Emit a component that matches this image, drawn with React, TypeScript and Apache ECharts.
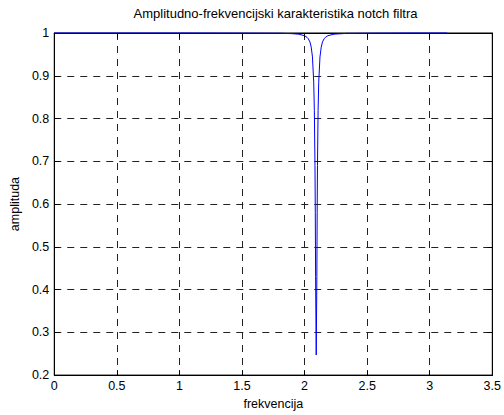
import React, { useEffect, useRef } from "react";
import * as echarts from "echarts";

const titleText = "Amplitudno-frekvencijski karakteristika notch filtra";
const xName = "frekvencija";
const yName = "amplituda";

// frequency samples (rad) and amplitude
const freq = [
  0, 0.5, 1.0, 1.5, 1.8, 1.9, 1.95, 2.0, 2.02, 2.03, 2.043, 2.053, 2.063, 2.073, 2.078, 2.083, 2.0855,
  2.088, 2.093, 2.098, 2.1005, 2.103, 2.108, 2.113, 2.123, 2.133, 2.143, 2.156, 2.166, 2.186, 2.236,
  2.336, 2.5, 2.8, 3.14,
];
const amplitude = [
  1, 1, 1, 0.9997, 0.9994, 0.9985, 0.9973, 0.9937, 0.9898, 0.9864, 0.979, 0.967, 0.944, 0.885, 0.819,
  0.69, 0.581, 0.43, 0.247, 0.43, 0.581, 0.69, 0.819, 0.885, 0.944, 0.967, 0.979, 0.9864, 0.9898,
  0.9937, 0.9973, 0.9991, 0.9995, 0.9999, 1,
];

const xTicks = { min: 0, max: 3.5, interval: 0.5 };
const yTicks = { min: 0.2, max: 1, interval: 0.1 };

const FONT = "'Liberation Sans', Arial, Helvetica, sans-serif";
const GRID = { left: 54, right: 7, top: 33, bottom: 34 };

export default function App() {
  const ref = useRef<HTMLDivElement>(null);
  useEffect(() => {
    if (!ref.current) return;
    const chart = echarts.init(ref.current, null, { renderer: "svg" });
    const data = freq.map((f, i) => [f, amplitude[i]]);
    const splitLine = {
      show: true,
      lineStyle: { color: "#222", width: 1, type: [7, 6] as any },
    };
    const tick = { show: true, inside: true, length: 5, lineStyle: { color: "#000" } };
    const fmt = (v: number) => String(+v.toFixed(2));
    chart.setOption({
      animation: false,
      backgroundColor: "#fff",
      title: {
        text: titleText,
        left: 275.5,
        top: 7,
        padding: 0,
        textAlign: "center",
        textStyle: { fontFamily: FONT, fontSize: 13, fontWeight: "normal", color: "#000" },
      },
      grid: { ...GRID, show: true, borderColor: "#000", borderWidth: 1, backgroundColor: "#fff" },
      xAxis: [
        {
          type: "value",
          ...xTicks,
          position: "bottom",
          name: xName,
          nameLocation: "middle",
          nameGap: 15,
          nameTextStyle: { fontFamily: FONT, fontSize: 12.5, color: "#000" },
          axisLine: { show: true, onZero: false, lineStyle: { color: "#000", width: 1 } },
          axisTick: tick,
          axisLabel: { fontFamily: FONT, fontSize: 12.5, color: "#000", margin: 4, formatter: fmt },
          splitLine,
        },
        {
          type: "value",
          ...xTicks,
          position: "top",
          axisLine: { show: true, onZero: false, lineStyle: { color: "#000" } },
          axisTick: tick,
          axisLabel: { show: false },
          splitLine: { show: false },
        },
      ],
      yAxis: [
        {
          type: "value",
          ...yTicks,
          position: "left",
          name: yName,
          nameLocation: "middle",
          nameGap: 32,
          nameTextStyle: { fontFamily: FONT, fontSize: 12.5, color: "#000" },
          axisLine: { show: true, onZero: false, lineStyle: { color: "#000", width: 1 } },
          axisTick: tick,
          axisLabel: { fontFamily: FONT, fontSize: 12.5, color: "#000", margin: 5, formatter: fmt },
          splitLine,
        },
        {
          type: "value",
          ...yTicks,
          position: "right",
          axisLine: { show: true, onZero: false, lineStyle: { color: "#000" } },
          axisTick: tick,
          axisLabel: { show: false },
          splitLine: { show: false },
        },
      ],
      series: [
        {
          type: "line",
          data,
          xAxisIndex: 0,
          yAxisIndex: 0,
          showSymbol: false,
          symbol: "none",
          clip: false,
          smooth: false,
          z: 10,
          lineStyle: { color: "#0000ff", width: 1 },
        },
      ],
    });
    return () => chart.dispose();
  }, []);
  return (
    <div
      ref={ref}
      style={{ position: "fixed", left: 0, top: 0, width: 504, height: 415, background: "#fff" }}
    />
  );
}
